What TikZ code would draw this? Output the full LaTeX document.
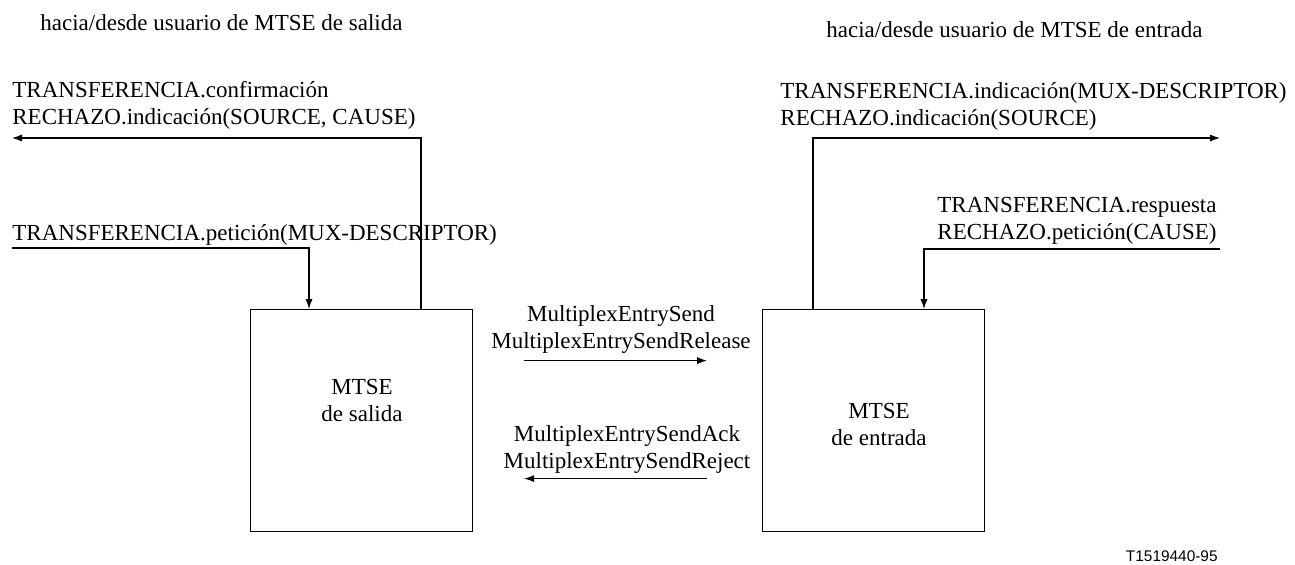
\documentclass[tikz,border=0pt]{standalone}
\usepackage{fontspec}
\setmainfont{Liberation Serif}
\newfontfamily\helv{Liberation Sans}
\usetikzlibrary{arrows.meta, positioning, calc}

\begin{document}
\begin{tikzpicture}[
    x=0.5pt, y=-0.5pt,
    >={Latex[length=5pt, width=3.6pt]},
    every node/.style={font=\fontsize{11.5}{13.5}\selectfont},
    mtse/.style={draw, line width=0.6pt, minimum width=111pt, minimum height=111pt, anchor=north west, inner sep=0pt},
    flujo/.style={line width=0.6pt},
    prim/.style={inner sep=0pt, align=left},
]
    \useasboundingbox (0,0) rectangle (1295,564);

    % Headers
    \node[prim, anchor=base west] (hsal) at (40,30) {hacia/desde usuario de MTSE de salida};
    \node[prim, anchor=base west] (hent) at (826,37) {hacia/desde usuario de MTSE de entrada};

    % Entities
    \node[mtse] (sal) at (250,309) {};
    \node[mtse] (ent) at (762,309) {};
    \node[prim, align=center, anchor=base] (tsal) at (362,421) {MTSE\\de salida};
    \node[prim, align=center, anchor=base] (tent) at (879,445) {MTSE\\de entrada};

    % Free ends towards the users
    \coordinate (outL) at (12,138);
    \coordinate (inL) at (12,248);
    \coordinate (outR) at (1220,138);
    \coordinate (inR) at (1220,249);

    % User primitives
    \draw[flujo, ->] ($(sal.north west)+(171,0)$) |- (outL);
    \draw[flujo, ->] (inL) -| ($(sal.north west)+(59,0)$);
    \draw[flujo, ->] ($(ent.north west)+(51,0)$) |- (outR);
    \draw[flujo, ->] (inR) -| ($(ent.north west)+(162,0)$);

    \node[prim, anchor=base west] (pconf) at (12,124) {TRANSFERENCIA.confirmación\\RECHAZO.indicación(SOURCE, CAUSE)};
    \node[prim, anchor=base west] (ppet) at (12,240) {TRANSFERENCIA.petición(MUX-DESCRIPTOR)};
    \node[prim, anchor=base west] (pind) at (780,125) {TRANSFERENCIA.indicación(MUX-DESCRIPTOR)\\RECHAZO.indicación(SOURCE)};
    \node[prim, anchor=base west] (presp) at (937,239) {TRANSFERENCIA.respuesta\\RECHAZO.petición(CAUSE)};

    % Peer messages
    \draw[flujo, ->] ($(sal.east)+(51,-60)$) -- ($(ent.west)+(-55,-60)$);
    \draw[flujo, ->] ($(ent.west)+(-55,58)$) -- ($(sal.east)+(51,58)$);
    \node[prim, align=center, anchor=base] (msend) at (621,348) {MultiplexEntrySend\\MultiplexEntrySendRelease};
    \node[prim, align=center, anchor=base] (mack) at (627,468) {MultiplexEntrySendAck\\MultiplexEntrySendReject};

    % Figure reference
    \node[anchor=base east, inner sep=0pt, font=\helv\fontsize{7.7}{9}\selectfont] (fref) at (1218,561) {T1519440-95};
\end{tikzpicture}
\end{document}
